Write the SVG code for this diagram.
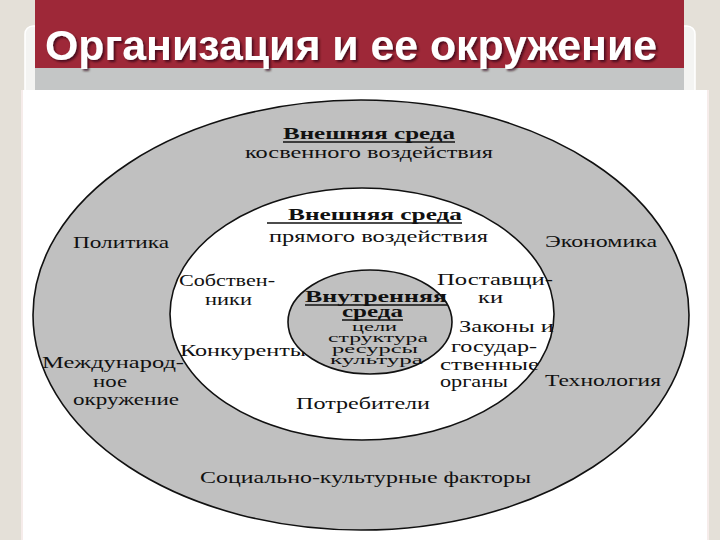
<svg xmlns="http://www.w3.org/2000/svg" width="720" height="540" viewBox="0 0 720 540">
<defs>
<filter id="sh" x="-5%" y="-20%" width="110%" height="150%">
<feDropShadow dx="2" dy="2" stdDeviation="1" flood-color="#2a0508" flood-opacity="0.7"/>
</filter>
</defs>
<style>
.t{font-family:"Liberation Serif","Times New Roman",serif;font-size:16px;fill:#111}
.b{font-weight:bold;font-size:17px}
.c{font-size:13.5px}
.ul{stroke:#111;stroke-width:1.5}
.ring{stroke:#111;stroke-width:1.6}
</style>
<rect x="0" y="0" width="720" height="540" fill="#e4e0d8"/>
<rect x="25" y="26" width="670" height="80" rx="8" fill="#f4f4f2" stroke="#ffffff" stroke-width="1.5"/>
<rect x="21" y="90" width="688" height="450" fill="#f6ecea"/>
<rect x="23" y="90" width="684" height="450" fill="#ffffff"/>
<g id="title">
<rect x="35" y="0" width="649" height="68" fill="#9e2838"/>
<rect x="35" y="68" width="649" height="22" fill="#c4c6c6"/>
<text x="45" y="60" font-family="'Liberation Sans',Arial,sans-serif" font-weight="bold" font-size="42" fill="#ffffff" filter="url(#sh)" textLength="612" lengthAdjust="spacingAndGlyphs">Организация и ее окружение</text>
</g>
<g id="outer">
<ellipse class="ring" cx="361" cy="315" rx="328" ry="215" fill="#c0c0c0"/>
<text class="t b" x="283" y="139" textLength="172" lengthAdjust="spacingAndGlyphs">Внешняя среда</text>
<line class="ul" x1="283" y1="142" x2="455" y2="142"/>
<text class="t" x="245" y="158" textLength="248" lengthAdjust="spacingAndGlyphs">косвенного воздействия</text>
<text class="t" x="73" y="248" textLength="96" lengthAdjust="spacingAndGlyphs">Политика</text>
<text class="t" x="545" y="247" textLength="112" lengthAdjust="spacingAndGlyphs">Экономика</text>
<text class="t" x="42" y="368" textLength="142" lengthAdjust="spacingAndGlyphs">Международ-</text>
<text class="t" x="93" y="387" textLength="34" lengthAdjust="spacingAndGlyphs">ное</text>
<text class="t" x="73" y="405" textLength="106" lengthAdjust="spacingAndGlyphs">окружение</text>
<text class="t" x="545" y="386" textLength="116" lengthAdjust="spacingAndGlyphs">Технология</text>
<text class="t" x="200" y="483" textLength="331" lengthAdjust="spacingAndGlyphs">Социально-культурные факторы</text>
</g>
<g id="middle">
<ellipse class="ring" cx="362" cy="314" rx="192" ry="126" fill="#ffffff"/>
<text class="t b" x="288" y="220" textLength="174" lengthAdjust="spacingAndGlyphs">Внешняя среда</text>
<line class="ul" x1="267" y1="223" x2="462" y2="223"/>
<text class="t" x="269" y="242" textLength="219" lengthAdjust="spacingAndGlyphs">прямого воздействия</text>
<text class="t" x="179" y="286" textLength="96" lengthAdjust="spacingAndGlyphs">Собствен-</text>
<text class="t" x="205" y="305" textLength="47" lengthAdjust="spacingAndGlyphs">ники</text>
<text class="t" x="437" y="285" textLength="116" lengthAdjust="spacingAndGlyphs">Поставщи-</text>
<text class="t" x="478" y="303" textLength="25" lengthAdjust="spacingAndGlyphs">ки</text>
<text class="t" x="459" y="332" textLength="95" lengthAdjust="spacingAndGlyphs">Законы и</text>
<text class="t" x="451" y="352" textLength="86" lengthAdjust="spacingAndGlyphs">государ-</text>
<text class="t" x="440" y="370" textLength="99" lengthAdjust="spacingAndGlyphs">ственные</text>
<text class="t" x="440" y="387" textLength="68" lengthAdjust="spacingAndGlyphs">органы</text>
<text class="t" x="180" y="356" textLength="126" lengthAdjust="spacingAndGlyphs">Конкуренты</text>
<text class="t" x="296" y="409" textLength="134" lengthAdjust="spacingAndGlyphs">Потребители</text>
</g>
<g id="core">
<ellipse class="ring" cx="370" cy="322" rx="82" ry="52" fill="#c0c0c0"/>
<text class="t b" x="305" y="302" textLength="142" lengthAdjust="spacingAndGlyphs">Внутренняя</text>
<line class="ul" x1="305" y1="305" x2="447" y2="305"/>
<text class="t b" x="342" y="317" textLength="61" lengthAdjust="spacingAndGlyphs">среда</text>
<line class="ul" x1="342" y1="320" x2="403" y2="320"/>
<text class="t c" x="352" y="331" textLength="45" lengthAdjust="spacingAndGlyphs">цели</text>
<text class="t c" x="328" y="342" textLength="100" lengthAdjust="spacingAndGlyphs">структура</text>
<text class="t c" x="332" y="353" textLength="86" lengthAdjust="spacingAndGlyphs">ресурсы</text>
<text class="t c" x="330" y="364" textLength="93" lengthAdjust="spacingAndGlyphs">культура</text>
</g>
</svg>
